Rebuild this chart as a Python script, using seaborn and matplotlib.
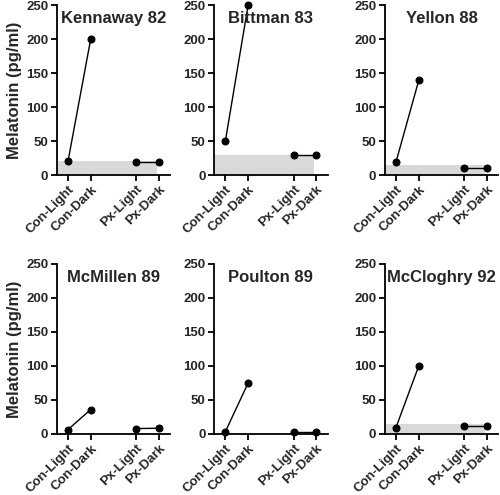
import matplotlib
matplotlib.use("Agg")
import matplotlib.pyplot as plt
import seaborn as sns
import pandas as pd

studies = ["Kennaway 82", "Bittman 83", "Yellon 88", "McMillen 89", "Poulton 89", "McCloghry 92"]
categories = ["Con-Light", "Con-Dark", "Px-Light", "Px-Dark"]
cat_pos = [0, 1, 3, 4]
groups = ["Con", "Con", "Px", "Px"]
con_light = [20, 50, 19, 6.5, 3.5, 9.5]
con_dark = [200, 250, 139, 36, 75, 100]
px_light = [19, 30, 10, 8, 3.5, 12.5]
px_dark = [19, 30, 10, 8.5, 3.5, 12.5]
detect_limit = [21, 30, 14.5, 0, 0, 15]
yticks = [0, 50, 100, 150, 200, 250]
ylabel = "Melatonin (pg/ml)"

rows = []
for i, s in enumerate(studies):
    vals = [con_light[i], con_dark[i], px_light[i], px_dark[i]]
    for c, p, g, v in zip(categories, cat_pos, groups, vals):
        rows.append(dict(study=s, category=c, pos=p, group=g, value=v))
df = pd.DataFrame(rows)

sns.set_style("ticks")
plt.rcParams['font.family'] = ['Liberation Sans', 'DejaVu Sans']

fig = plt.figure(figsize=(5.0, 4.95), dpi=100)
lefts = [56.6 / 500, 214 / 500, 384.6 / 500]
bottoms = [1 - 175 / 495, 1 - 434 / 495]
w = 113.75 / 500
h = 170 / 495

for i, s in enumerate(studies):
    r, c = divmod(i, 3)
    ax = fig.add_axes([lefts[c], bottoms[r], w, h])
    if detect_limit[i] > 0:
        ax.fill_between([-0.5, 3.9], 0, detect_limit[i], color="#d9d9d9", lw=0, zorder=0)
    sub = df[df.study == s]
    sns.lineplot(data=sub, x="pos", y="value", units="group", estimator=None,
                 color="black", lw=1.0, marker="o", markersize=5,
                 markeredgecolor="black", ax=ax, clip_on=False, zorder=3)
    ax.set_xlim(-0.5, 4.5)
    ax.set_ylim(0, 250)
    ax.set_yticks(yticks)
    ax.set_yticklabels([str(t) for t in yticks], fontsize=9.5, fontweight="bold")
    ax.set_xticks(cat_pos)
    ax.set_xticklabels(categories, rotation=45, ha="right", rotation_mode="anchor",
                       fontsize=9.5, fontweight="bold")
    ax.tick_params(axis="both", width=1.3, length=4, color="black", pad=2)
    for sp in ["left", "bottom"]:
        ax.spines[sp].set_linewidth(1.3)
        ax.spines[sp].set_color("black")
    sns.despine(ax=ax)
    ax.set_xlabel("")
    if c == 0:
        ax.set_ylabel(ylabel, fontsize=12, fontweight="bold", labelpad=3)
    else:
        ax.set_ylabel("")
    ax.text(0.5, 0.92, s, transform=ax.transAxes, ha="center", va="center",
            fontsize=12, fontweight="bold")

fig.savefig("out.png", dpi=100)
